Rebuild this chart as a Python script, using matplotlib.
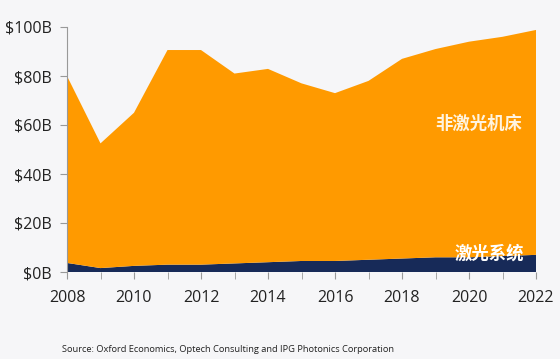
import matplotlib
matplotlib.use("Agg")
import matplotlib.pyplot as plt
from matplotlib.ticker import FixedLocator

plt.rcParams['font.family'] = ['Open Sans', 'Noto Sans CJK SC', 'DejaVu Sans']

years = list(range(2008, 2023))
total = [80, 52.5, 65, 90.6, 90.6, 81, 82.9, 77, 73, 78, 87, 91, 94, 96, 98.8]
laser = [3.7, 1.6, 2.5, 3.0, 3.0, 3.5, 4.0, 4.5, 4.5, 5.0, 5.5, 6.0, 6.0, 6.5, 7.0]
non_laser = [t - l for t, l in zip(total, laser)]
ytick_vals = [0, 20, 40, 60, 80, 100]
ytick_labels = ['$0B', '$20B', '$40B', '$60B', '$80B', '$100B']
xtick_vals = list(range(2008, 2023, 2))

bg = '#F6F6F8'
orange = '#FF9A00'
navy = '#172A58'

fig = plt.figure(figsize=(5.6, 3.59), dpi=100, facecolor=bg)
ax = fig.add_axes([67/560, 1-272/359, (536-67)/560, (272-27)/359])
ax.set_facecolor(bg)
ax.stackplot(years, laser, non_laser, colors=[navy, orange], linewidth=0)
ax.set_xlim(2008, 2022)
ax.set_ylim(0, 100)
ax.set_yticks(ytick_vals)
ax.set_yticklabels(ytick_labels)
ax.set_xticks(xtick_vals)
ax.xaxis.set_minor_locator(FixedLocator([y for y in years if y % 2 == 1]))
for s in ['top', 'right', 'bottom']:
    ax.spines[s].set_visible(False)
ax.spines['left'].set_color('#999999')
ax.spines['left'].set_linewidth(0.8)
ax.tick_params(axis='y', which='both', length=5, color='#999999', labelsize=11.5, pad=6, labelcolor='#222222')
ax.tick_params(axis='x', which='both', length=5, color='#999999', labelsize=11.5, pad=8, labelcolor='#222222')

ax.text(2020.3, 60.4, '非激光机床', color='#FFF4E0', fontsize=12.5, fontweight='bold',
        ha='center', va='center', family=['Noto Sans CJK SC'])
ax.text(2020.6, 7.6, '激光系统', color='#FFFFFF', fontsize=12.5, fontweight='bold',
        ha='center', va='center', family=['Noto Sans CJK SC'])

fig.text(62/560, 1-350/359, 'Source: Oxford Economics, Optech Consulting and IPG Photonics Corporation',
         fontsize=6.7, color='#222222', ha='left', va='center')

fig.savefig('out.png', dpi=100, facecolor=bg)
